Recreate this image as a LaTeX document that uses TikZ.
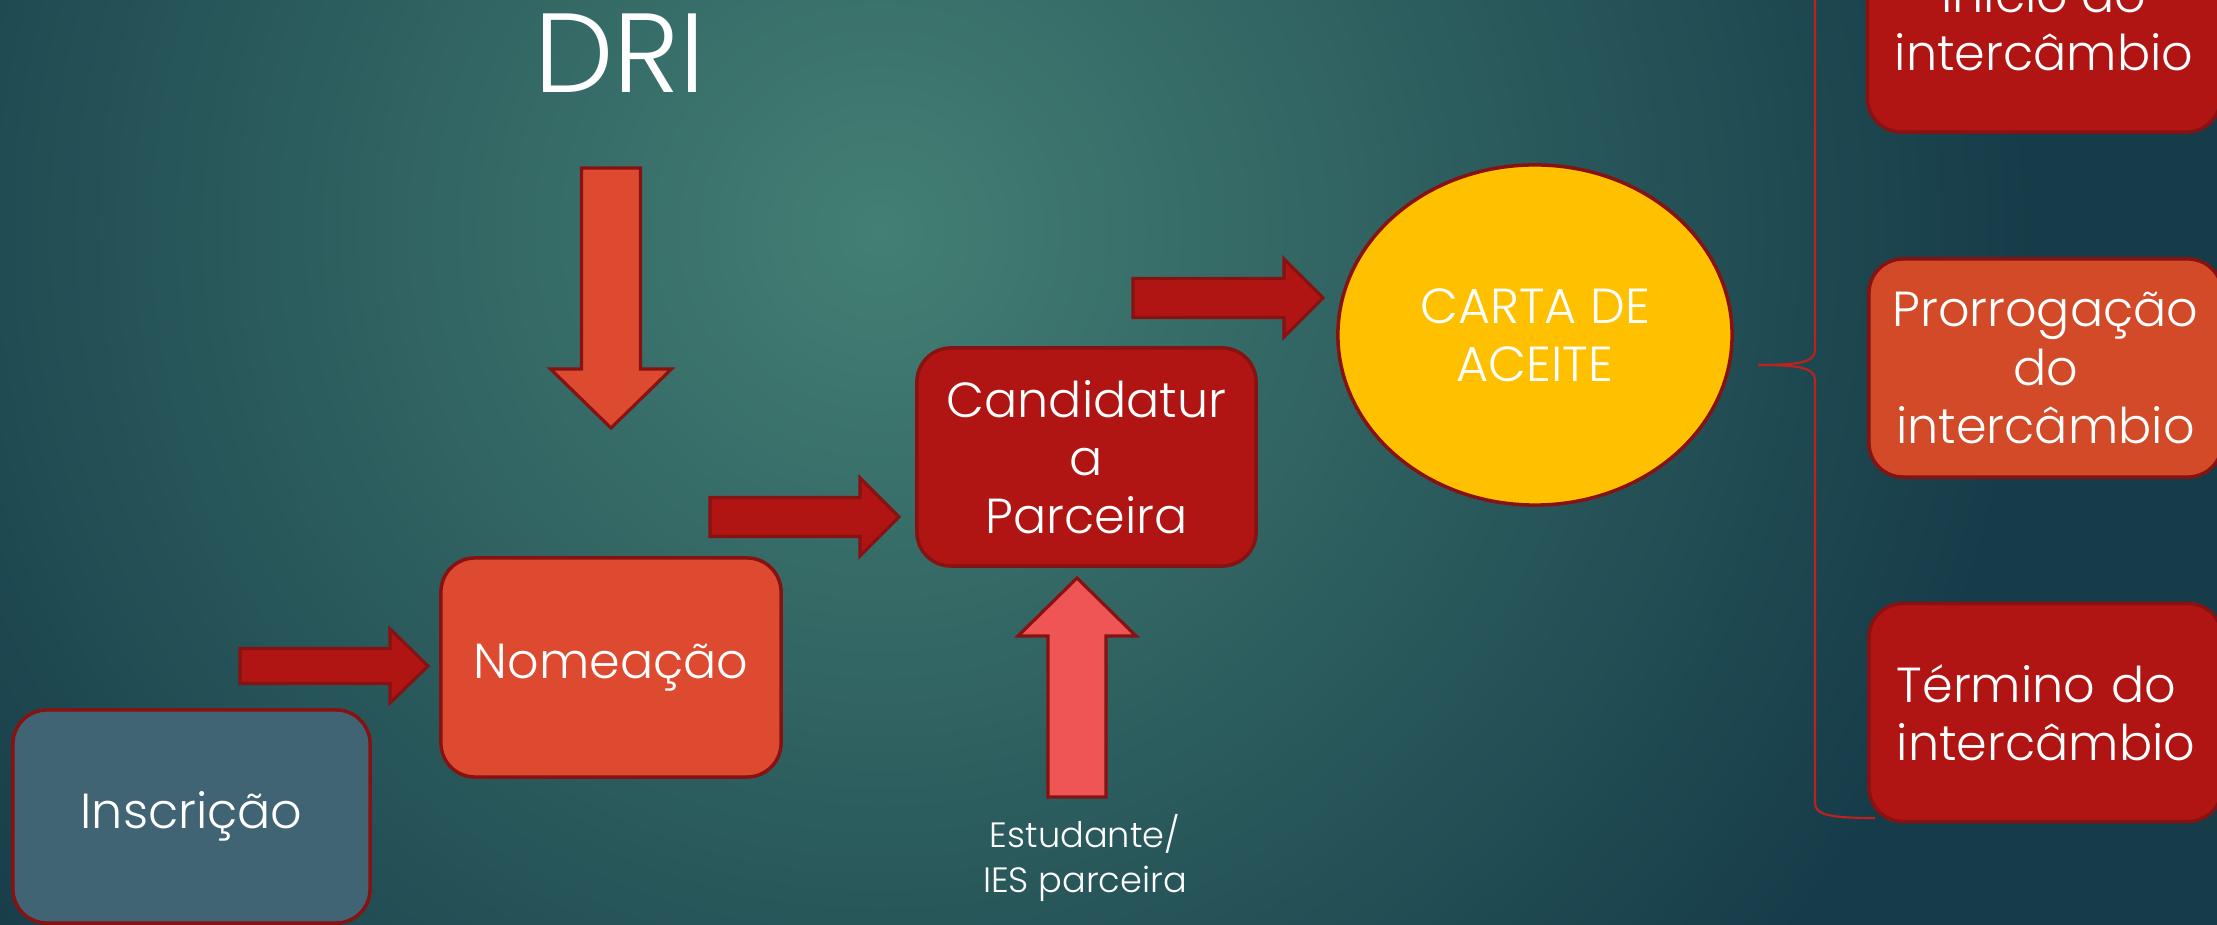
\documentclass[tikz,border=0pt]{standalone}
\usepackage{fontspec}
\setmainfont{Poppins Light}
\usetikzlibrary{shapes.geometric,positioning}
\definecolor{bgin}{HTML}{437F74}
\definecolor{bgout}{HTML}{163C49}
\definecolor{rim}{HTML}{861212}
\definecolor{brick}{HTML}{B01513}
\definecolor{flame}{HTML}{DD4A30}
\definecolor{rust}{HTML}{D24A28}
\definecolor{salmon}{HTML}{EF5555}
\definecolor{slate}{HTML}{416475}
\definecolor{gold}{HTML}{FFC000}
\definecolor{bracecol}{HTML}{C0201E}
\newcommand{\harrow}[7]{\filldraw[blockarrow,fill=#7] (#2,#1-#5) -- (#3,#1-#5) -- (#3,#1-#6) -- (#4,#1) -- (#3,#1+#6) -- (#3,#1+#5) -- (#2,#1+#5) -- cycle;}
\newcommand{\varrow}[7]{\filldraw[blockarrow,fill=#7] (#1-#5,#2) -- (#1-#5,#3) -- (#1-#6,#3) -- (#1,#4) -- (#1+#6,#3) -- (#1+#5,#3) -- (#1+#5,#2) -- cycle;}
\begin{document}
\begin{tikzpicture}[x=0.01cm,y=-0.01cm,
  blockarrow/.style={draw=rim,line width=0.9pt,line join=miter},
  box/.style={draw=rim,line width=1pt,rounded corners=0.34cm,minimum width=3.4cm,minimum height=2.18cm,inner sep=0pt,align=center,text=white,font=\fontsize{14}{16.5}\selectfont},
  sidebox/.style={box,minimum width=3.53cm},
  letter/.style={draw=rim,line width=1pt,ellipse,fill=gold,minimum width=3.94cm,minimum height=3.4cm,inner sep=0pt,align=center,text=white,font=\fontsize{14}{16.5}\selectfont},
  brace/.style={draw=bracecol,line width=0.6pt}]
  \useasboundingbox (0,0) rectangle (2217,925);
  \clip (0,0) rectangle (2217,925);
  \fill[bgout] (0,0) rectangle (2217,925);
  \shade[inner color=bgin,outer color=bgout] (880,230) circle (1150);

  \harrow{666}{240}{390}{428}{17.5}{37}{brick}
  \harrow{517}{710}{860}{899}{19.5}{39}{brick}
  \harrow{298}{1133}{1284}{1323}{19.5}{39}{brick}
  \varrow{611}{168}{369}{428}{29.5}{60.5}{flame}
  \varrow{1077}{797}{636}{578}{29}{59}{salmon}

  \node[anchor=base,text=white,font=\fontsize{32}{36}\selectfont] (dri) at (620,93) {DRI};
  \node[box,fill=slate,minimum width=3.57cm,minimum height=2.13cm] (inscricao) at (191.5,816.5) {Inscrição};
  \node[box,fill=flame,minimum height=2.19cm] (nomeacao) at (611,667.5) {Nomeação};
  \node[box,fill=brick,minimum width=3.39cm] (candidatura) at (1086.5,457) {Candidatur\\a\\Parceira};
  \node[align=center,text=white,font=\fontsize{10}{12.8}\selectfont] (estudante) at (1085,858) {Estudante/\\IES parceira};
  \node[letter] (carta) at (1535,335) {CARTA DE\\ACEITE};
  \node[sidebox,fill=brick] (inicio) at (2044,23) {Início do\\intercâmbio};
  \node[sidebox,fill=rust] (prorrogacao) at (2045.5,368) {Prorrogação\\do\\intercâmbio};
  \node[sidebox,fill=brick,align=left,text width=2.97cm,inner xsep=0.28cm] (termino) at (2045.5,712.5) {Término do\\intercâmbio};

  \draw[brace] (1875,818) .. controls (1830,818) and (1815,815) .. (1815,803)
    -- (1815,380) .. controls (1815,368) and (1800,365) .. (1758,365)
    .. controls (1800,365) and (1815,362) .. (1815,350) -- (1815,-80);
\end{tikzpicture}
\end{document}
